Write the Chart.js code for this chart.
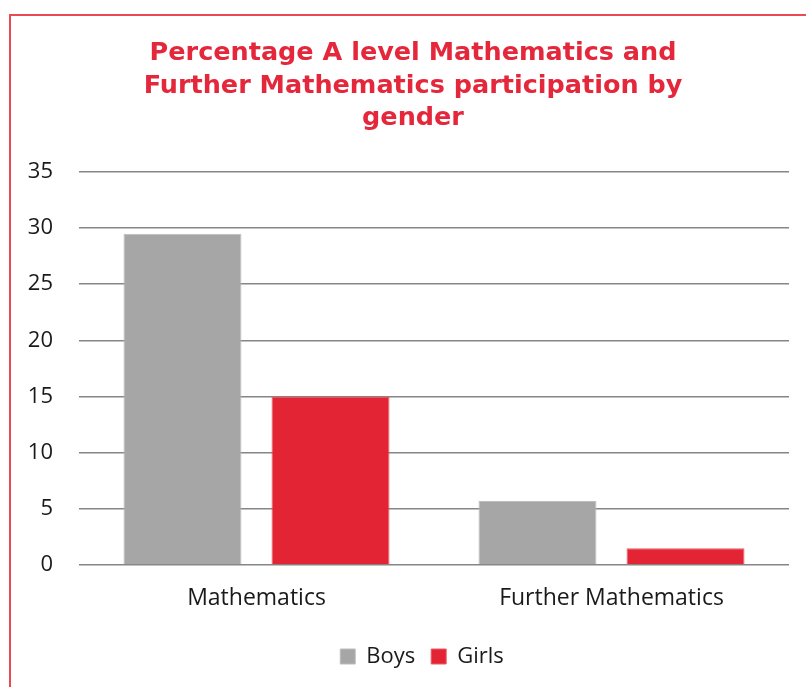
<!DOCTYPE html>
<html>
<head>
<meta charset="utf-8">
<script src="https://cdn.jsdelivr.net/npm/chart.js@4"></script>
<style>
  html, body { margin: 0; padding: 0; background: #fff; }
  #frame {
    position: absolute; left: 9px; top: 14px; width: 797px; height: 673px;
    border-left: 2px solid #E84A56; border-top: 2px solid #E84A56;
    box-sizing: border-box;
  }
  #wrap { position: absolute; left: 0; top: 0; width: 806px; height: 687px; }
</style>
</head>
<body>
<div id="frame"></div>
<div id="wrap"><canvas id="chart" width="806" height="687"></canvas></div>
<script>
// Chart data
const categories = ["Mathematics", "Further Mathematics"];
const boys = [29.5, 5.7];
const girls = [15.0, 1.5];
const titleLines = [
  "Percentage A level Mathematics and",
  "Further Mathematics participation by",
  "gender"
];

const tickFont = { family: "'Open Sans', sans-serif", size: 22 };

// y labels sit left of the padded area, so widen the y scale's clip box;
// legend sits a little right of the title centre in the original
const layoutTweaks = {
  id: "layoutTweaks",
  afterLayout(chart) {
    chart.scales.y.left = 15;
    chart.legend.left += 9;
    chart.legend.right += 9;
  }
};

new Chart(document.getElementById("chart"), {
  type: "bar",
  data: {
    labels: categories,
    datasets: [
      {
        label: "Boys",
        data: boys,
        backgroundColor: "#A6A6A6",
        borderColor: "#BDBDBD",
        borderWidth: 1,
        barPercentage: 0.797,
        categoryPercentage: 0.834
      },
      {
        label: "Girls",
        data: girls,
        backgroundColor: "#E32434",
        borderColor: "#EC5A66",
        borderWidth: 1,
        barPercentage: 0.797,
        categoryPercentage: 0.834
      }
    ]
  },
  plugins: [layoutTweaks],
  options: {
    responsive: false,
    animation: false,
    layout: { padding: { left: 37, right: 17, top: 27, bottom: 9.5 } },
    plugins: {
      title: {
        display: true,
        text: titleLines,
        color: "#E4273A",
        font: { family: "'DejaVu Sans', sans-serif", weight: "bold", size: 25.5, lineHeight: 1.28 },
        padding: { top: 10, bottom: 37 }
      },
      legend: {
        position: "bottom",
        labels: {
          color: "#1a1a1a",
          font: tickFont,
          boxWidth: 15,
          boxHeight: 15,
          padding: 16
        }
      },
      tooltip: { enabled: false }
    },
    scales: {
      x: {
        grid: { display: false, drawTicks: false },
        border: { display: false },
        ticks: { color: "#1a1a1a", font: { family: "'Open Sans', sans-serif", size: 23 }, padding: 20 },
        afterFit: (scale) => { scale.height = 64.5; }
      },
      y: {
        min: 0,
        max: 35,
        grid: { color: "#868686", lineWidth: 1.5, drawTicks: false },
        border: { display: false },
        ticks: { stepSize: 5, color: "#1a1a1a", font: tickFont, padding: 26 },
        afterFit: (scale) => { scale.width = 42; }
      }
    }
  }
});
</script>
</body>
</html>
